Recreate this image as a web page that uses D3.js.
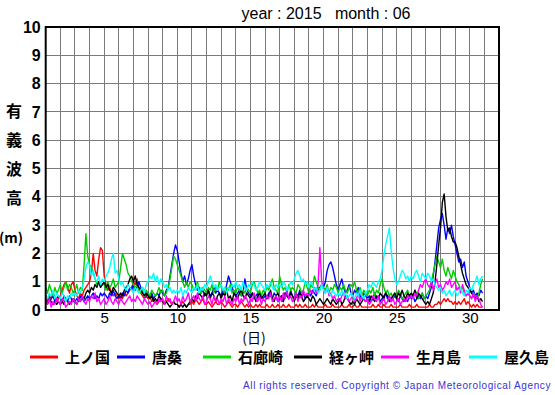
<!DOCTYPE html>
<html><head><meta charset="utf-8">
<script src="https://cdn.jsdelivr.net/npm/d3@7"></script>
<style>
body{margin:0;background:#fff;}
svg{display:block;}
</style></head>
<body>
<svg id="c" width="555" height="395"></svg>
<script>
// ---- data (significant wave height, m; 3-hourly from day 1 00h) ----
const stations = ["上ノ国","唐桑","石廊崎","経ヶ岬","生月島","屋久島"];
const colors = ["#ff0000","#0000ff","#00cc00","#000000","#ff00ff","#00ffff"];
const yTicks = [0,1,2,3,4,5,6,7,8,9,10];
const xTicks = [5,10,15,20,25,30];
const stepsPerDay = 8;

const kaminokuni = [
0.4,0.3,0.5,0.4,0.6,0.5,0.3,0.4, 0.5,0.7,0.9,1.0,0.8,0.6,0.9,1.0, 0.7,0.5,0.4,0.6,0.5,0.7,0.8,0.9,
1.0,1.3,2.0,1.4,1.2,1.8,2.2,2.1, 1.2,0.9,0.7,0.8,0.6,0.5,0.6,0.5, 0.4,0.5,0.4,0.6,0.5,0.6,0.7,0.8,
1.0,0.9,1.1,0.7,0.6,0.5,0.4,0.5, 0.4,0.5,0.3,0.4,0.3,0.2,0.3,0.4, 0.3,0.2,0.3,0.4,0.3,0.2,0.3,0.2,
0.2,0.1,0.2,0.3,0.2,0.1,0.2,0.2, 0.3,0.2,0.4,0.3,0.2,0.3,0.4,0.2, 0.2,0.3,0.2,0.1,0.2,0.3,0.2,0.2,
0.3,0.2,0.1,0.2,0.3,0.2,0.1,0.2, 0.2,0.1,0.2,0.3,0.2,0.1,0.2,0.1, 0.2,0.1,0.1,0.2,0.1,0.2,0.1,0.1,
0.1,0.2,0.1,0.1,0.2,0.1,0.1,0.2, 0.1,0.1,0.2,0.1,0.1,0.2,0.1,0.1, 0.1,0.2,0.1,0.2,0.1,0.1,0.2,0.1,
0.1,0.1,0.2,0.1,0.2,0.1,0.1,0.1, 0.1,0.2,0.1,0.1,0.1,0.2,0.1,0.1, 0.1,0.1,0.2,0.1,0.1,0.1,0.2,0.1,
0.1,0.2,0.1,0.1,0.2,0.1,0.1,0.1, 0.1,0.1,0.1,0.2,0.1,0.1,0.2,0.1, 0.1,0.2,0.1,0.1,0.1,0.2,0.1,0.1,
0.1,0.1,0.2,0.1,0.1,0.1,0.1,0.2, 0.1,0.1,0.1,0.2,0.1,0.1,0.1,0.1, 0.1,0.1,0.2,0.1,0.1,0.2,0.2,0.3,
0.2,0.3,0.4,0.3,0.4,0.3,0.3,0.2, 0.3,0.2,0.3,0.2,0.3,0.4,0.2,0.3, 0.2,0.1,0.2,0.1,0.2,0.1,0.1,0.1];

const karakuwa = [
0.5,0.4,0.3,0.4,0.5,0.3,0.4,0.5, 0.4,0.3,0.5,0.4,0.3,0.5,0.4,0.3, 0.3,0.4,0.3,0.5,0.4,0.3,0.4,0.5,
0.4,0.5,0.6,0.4,0.5,0.4,0.6,0.5, 0.6,0.5,0.4,0.6,0.5,0.7,0.5,0.4, 0.5,0.4,0.6,0.5,0.7,0.6,0.8,0.7,
0.9,0.7,0.8,1.0,0.8,0.6,0.7,0.5, 0.6,0.5,0.6,0.4,0.5,0.6,0.5,0.7, 0.6,0.5,0.7,0.8,1.2,1.6,2.0,2.3,
2.1,1.7,1.3,1.0,1.2,0.9,1.1,1.4, 1.6,1.2,0.9,0.7,0.8,0.6,0.7,0.5, 0.6,0.7,0.5,0.6,0.8,0.6,0.7,0.6,
0.5,0.7,0.6,0.9,1.2,1.0,0.8,0.6, 0.5,0.6,0.7,0.5,0.6,1.1,0.7,0.6, 0.5,0.6,0.4,0.5,0.6,0.4,0.5,0.4,
0.5,0.4,0.6,0.5,0.4,0.6,0.5,0.3, 0.4,0.5,0.3,0.6,0.5,0.4,0.7,0.5, 0.4,0.6,0.5,0.7,0.5,0.6,0.4,0.5,
0.6,0.5,0.7,0.6,0.5,0.7,0.8,0.9, 0.8,1.0,1.4,1.6,1.7,1.5,1.2,0.9, 0.7,0.9,1.1,0.8,0.6,0.7,0.9,0.6,
0.5,0.7,0.6,0.8,0.5,0.4,0.6,0.5, 0.4,0.5,0.3,0.4,0.6,0.4,0.5,0.3, 0.4,0.5,0.6,0.4,0.5,0.3,0.4,0.5,
0.4,0.3,0.5,0.4,0.3,0.4,0.3,0.5, 0.4,0.5,0.3,0.4,0.5,0.4,0.6,0.4, 0.5,0.4,0.6,0.8,1.2,1.7,2.3,2.9,
3.2,3.4,3.0,2.5,2.9,2.7,3.0,2.6, 2.3,2.0,1.7,1.8,1.5,1.7,1.2,1.0, 0.8,0.6,0.7,0.5,0.6,0.5,0.7,0.6];

const irozaki = [
0.8,0.6,0.9,0.7,0.5,0.8,0.6,0.7, 0.9,0.6,0.8,1.0,0.7,0.9,0.8,0.6, 0.7,0.9,0.6,0.8,0.7,1.6,2.7,1.9,
1.6,1.5,1.3,1.1,0.9,1.0,0.8,0.9, 0.9,0.7,1.0,0.8,0.9,1.1,0.8,0.9, 1.0,1.5,2.0,1.8,1.6,1.3,1.2,1.0,
0.9,0.8,0.9,0.7,0.6,0.8,0.5,0.7, 0.6,0.5,0.7,0.6,0.5,0.6,0.8,0.6, 0.7,0.5,0.6,0.8,1.1,1.5,1.9,1.8,
1.6,1.4,1.2,1.0,0.8,1.0,0.8,1.0, 0.9,0.7,0.8,1.0,0.7,0.6,0.8,0.7, 0.6,0.8,0.7,0.9,0.6,0.8,0.7,1.0,
0.8,0.7,0.6,0.8,0.7,0.9,0.6,0.7, 0.6,0.8,0.7,0.5,0.7,0.6,0.8,0.7, 0.6,0.9,1.0,0.8,0.6,0.7,0.5,0.7,
0.6,0.8,0.7,0.9,1.1,0.8,0.7,0.6, 1.2,0.9,0.7,0.8,0.6,0.9,0.7,0.8, 0.7,0.6,0.9,0.8,0.6,0.7,1.0,0.8,
0.6,0.9,0.8,1.2,1.0,0.8,0.7,0.9, 0.8,0.7,0.9,0.6,0.8,0.7,0.9,0.8, 0.6,0.8,0.7,0.9,0.7,0.6,0.8,0.9,
0.8,1.0,0.7,0.6,0.8,0.5,0.7,0.6, 0.5,0.7,0.6,0.8,0.5,0.7,0.6,0.9, 1.1,0.8,0.6,0.7,0.5,0.6,0.4,0.6,
0.5,0.7,0.6,0.4,0.5,0.6,0.7,0.5, 0.6,0.5,0.7,0.6,0.4,0.5,0.6,0.4, 0.5,0.6,0.7,1.0,1.3,1.6,1.9,1.7,
1.5,1.8,1.4,1.2,1.5,1.3,1.1,1.4, 1.2,1.0,0.9,0.7,0.8,0.6,0.5,0.6, 0.5,0.4,0.6,0.5,0.4,0.6,0.9,1.1];

const kyogamisaki = [
0.3,0.2,0.4,0.3,0.2,0.3,0.2,0.3, 0.2,0.3,0.2,0.4,0.3,0.2,0.3,0.4, 0.3,0.2,0.4,0.3,0.5,0.4,0.6,0.7,
0.6,0.8,0.7,0.9,0.8,1.0,0.8,0.9, 1.0,0.8,0.9,0.7,0.6,0.8,0.7,0.6, 0.5,0.6,0.5,0.7,0.8,0.9,1.1,1.2,
1.0,1.2,0.9,0.8,0.7,0.6,0.5,0.6, 0.5,0.4,0.5,0.3,0.4,0.3,0.5,0.4, 0.3,0.2,0.3,0.2,0.1,0.2,0.3,0.2,
0.2,0.1,0.2,0.1,0.2,0.1,0.2,0.3, 0.4,0.3,0.5,0.4,0.6,0.5,0.4,0.6, 0.5,0.7,0.4,0.6,0.5,0.3,0.5,0.6,
0.4,0.6,0.5,0.7,0.4,0.5,0.3,0.6, 0.5,0.4,0.6,0.7,0.5,0.4,0.6,0.5, 0.4,0.6,0.5,0.3,0.5,0.6,0.4,0.5,
0.6,0.4,0.5,0.7,0.4,0.3,0.5,0.6, 0.4,0.5,0.3,0.6,0.5,0.4,0.6,0.5, 0.3,0.5,0.4,0.6,0.5,0.3,0.4,0.5,
0.4,0.3,0.5,0.4,0.2,0.3,0.4,0.3, 0.2,0.3,0.4,0.3,0.2,0.4,0.3,0.2, 0.3,0.4,0.2,0.3,0.5,0.4,0.3,0.2,
0.3,0.2,0.4,0.3,0.2,0.3,0.4,0.3, 0.4,0.3,0.5,0.4,0.3,0.5,0.4,0.6, 0.5,0.4,0.6,0.5,0.3,0.4,0.5,0.6,
0.4,0.6,0.5,0.7,0.5,0.4,0.6,0.5, 0.6,0.5,0.7,0.4,0.6,0.5,0.4,0.3, 0.2,0.3,0.2,0.4,0.6,1.0,1.6,2.3,
2.9,3.8,4.1,3.3,2.8,2.9,2.6,2.4, 2.4,2.2,1.9,1.6,1.3,1.1,0.9,0.8, 0.7,0.6,0.5,0.4,0.5,0.3,0.4,0.3];

const ikitsukishima = [
0.3,0.2,0.4,0.1,0.3,0.2,0.4,0.3, 0.2,0.4,0.3,0.1,0.2,0.3,0.2,0.4, 0.3,0.2,0.4,0.3,0.5,0.3,0.2,0.4,
0.3,0.5,0.4,0.6,0.3,0.4,0.2,0.3, 0.4,0.2,0.3,0.5,0.3,0.2,0.4,0.3, 0.2,0.4,0.3,0.2,0.3,0.4,0.5,0.3,
0.4,0.3,0.5,0.4,0.3,0.2,0.4,0.3, 0.2,0.3,0.1,0.2,0.3,0.2,0.4,0.3, 0.4,0.2,0.5,0.3,0.4,0.2,0.3,0.5,
0.3,0.4,0.2,0.5,0.3,0.4,0.6,0.3, 0.4,0.5,0.3,0.6,0.4,0.3,0.5,0.2, 0.3,0.5,0.4,0.2,0.5,0.3,0.4,0.2,
0.4,0.3,0.5,0.2,0.4,0.3,0.2,0.4, 0.3,0.5,0.2,0.4,0.3,0.5,0.4,0.2, 0.4,0.3,0.6,0.4,0.3,0.5,0.2,0.4,
0.3,0.5,0.4,0.6,0.3,0.4,0.5,0.3, 0.5,0.3,0.6,0.4,0.7,0.4,0.5,0.3, 0.4,0.6,0.3,0.5,0.4,0.7,0.5,0.6,
0.5,0.7,0.6,0.8,0.6,0.9,2.2,1.0, 0.7,0.6,0.8,0.5,0.6,0.4,0.5,0.3, 0.4,0.3,0.5,0.6,0.4,0.5,0.3,0.4,
0.5,0.3,0.4,0.6,0.3,0.5,0.4,0.3, 0.4,0.2,0.3,0.5,0.4,0.3,0.5,0.2, 0.3,0.4,0.2,0.3,0.5,0.3,0.4,0.2,
0.3,0.4,0.2,0.3,0.4,0.3,0.5,0.4, 0.5,0.4,0.6,0.5,0.7,0.9,0.8,1.0, 1.1,0.9,0.8,1.0,0.7,0.9,1.1,0.8,
0.9,0.7,0.8,1.0,0.9,1.1,0.8,0.9, 1.0,0.7,0.8,0.6,0.9,0.7,0.5,0.6, 0.5,0.4,0.6,0.3,0.5,0.4,0.2,0.1];

const yakushima = [
0.5,0.4,0.6,0.5,0.7,0.4,0.6,0.5, 0.4,0.6,0.5,0.3,0.5,0.4,0.6,0.5, 0.6,0.5,0.7,0.6,0.8,1.1,1.5,1.7,
1.6,1.2,1.4,1.1,1.0,1.2,0.9,1.1, 1.0,1.2,1.3,1.5,1.8,2.0,1.3,1.4, 1.1,0.9,1.0,0.8,0.7,0.9,0.8,0.7,
0.6,0.8,0.7,0.6,0.7,0.8,0.6,0.9, 1.0,1.2,1.1,1.3,1.0,1.2,0.9,1.1, 1.0,0.8,0.9,0.7,0.8,0.6,0.7,0.6,
0.7,0.6,0.8,0.5,0.7,0.6,0.8,0.7, 0.6,0.8,0.7,0.9,0.6,0.8,0.7,0.9, 0.8,1.0,1.2,1.0,0.8,0.9,0.7,0.8,
0.9,0.7,0.8,0.6,0.8,0.7,0.9,0.8, 1.0,0.8,0.9,0.7,1.0,0.8,0.7,0.9, 0.8,1.0,0.9,0.7,0.8,1.0,0.9,0.8,
0.7,0.9,0.8,1.0,0.8,0.7,0.9,0.8, 0.9,0.8,1.0,0.9,0.7,0.8,1.0,0.9, 1.1,1.3,1.4,1.2,1.0,1.1,0.9,1.0,
0.8,1.0,0.9,0.7,0.8,0.6,0.7,0.9, 0.7,0.6,0.8,0.6,0.5,0.7,0.6,0.5, 0.6,0.5,0.7,0.5,0.6,0.4,0.5,0.6,
0.5,0.4,0.6,0.5,0.7,0.5,0.4,0.6, 0.7,0.9,0.8,1.0,0.9,0.8,1.0,1.1, 1.4,1.9,2.3,2.6,2.9,2.1,1.5,1.1,
0.9,1.0,1.2,1.4,1.3,1.1,1.2,1.0, 1.2,1.1,1.3,1.4,1.2,1.0,1.3,1.2, 1.1,1.3,1.2,1.0,1.1,0.9,0.8,0.7,
0.8,0.6,0.7,0.5,0.6,0.7,0.5,0.6, 0.7,0.5,0.6,0.8,0.6,0.5,0.7,0.6, 0.8,0.7,0.9,1.0,1.2,0.9,1.1,1.2];

const seriesValues = [kaminokuni, karakuwa, irozaki, kyogamisaki, ikitsukishima, yakushima];

// ---- chart ----
const svg = d3.select("#c");
const L = 45.7, R = 499, T = 27, B = 310;
const x = d3.scaleLinear().domain([1, 32]).range([L, R]);
const y = d3.scaleLinear().domain([0, 10]).range([B, T]);

// grid
const grid = svg.append("g").attr("stroke", "#7a7a7a").attr("stroke-width", 1).attr("shape-rendering","crispEdges");
grid.selectAll("line.h").data(d3.range(1, 10)).join("line")
  .attr("x1", L).attr("x2", R).attr("y1", d => y(d)).attr("y2", d => y(d));
grid.selectAll("line.v").data(d3.range(2, 32)).join("line")
  .attr("y1", T).attr("y2", B).attr("x1", d => x(d)).attr("x2", d => x(d));

// series
const line = d3.line().x((d, i) => x(1 + i / stepsPerDay)).y(d => y(d));
const plot = svg.append("g");
seriesValues.forEach((vals, k) => {
  plot.append("path").attr("d", line(vals)).attr("fill", "none")
    .attr("stroke", colors[k]).attr("stroke-width", 1.4).attr("stroke-linejoin","round");
});

// frame
svg.append("rect").attr("x", L).attr("y", T).attr("width", R - L).attr("height", B - T)
  .attr("fill", "none").attr("stroke", "#000").attr("stroke-width", 2);

// axes
const ya = svg.append("g").attr("transform", `translate(${L},0)`)
  .call(d3.axisLeft(y).tickValues(yTicks).tickSize(0).tickPadding(5).tickFormat(d3.format("d")));
ya.select(".domain").remove();
ya.selectAll("text").attr("font-family", "Liberation Sans, Arial, sans-serif")
  .attr("font-size", 16).attr("font-weight", "bold").attr("fill", "#000");

const xa = svg.append("g").attr("transform", `translate(0,${B})`)
  .call(d3.axisBottom(x).tickValues(xTicks).tickSize(0).tickPadding(2).tickFormat(d3.format("d")));
xa.select(".domain").remove();
xa.selectAll("text").attr("font-family", "Liberation Sans, Arial, sans-serif")
  .attr("font-size", 15).attr("fill", "#000");

// title
svg.append("text").attr("x", 326).attr("y", 19).attr("text-anchor", "middle")
  .attr("font-family", "Liberation Sans, Arial, sans-serif").attr("font-size", 16)
  .attr("xml:space","preserve").style("white-space","pre")
  .text("year : 2015   month : 06");

// y label
const ylab = ["有","義","波","高"];
ylab.forEach((c, i) => {
  svg.append("text").attr("x", 14).attr("y", 117 + i * 29).attr("text-anchor", "middle")
    .attr("font-family", "Noto Sans CJK JP, sans-serif").attr("font-size", 16).attr("font-weight", "bold")
    .text(c);
});
svg.append("text").attr("x", 11).attr("y", 243).attr("text-anchor", "middle")
  .attr("font-family", "Noto Sans CJK JP, sans-serif").attr("font-size", 14).attr("font-weight", "bold")
  .text("(m)");

// x label
svg.append("text").attr("x", 254).attr("y", 343).attr("text-anchor", "middle")
  .attr("font-family", "Noto Sans CJK JP, sans-serif").attr("font-size", 14)
  .text("(日)");

// legend
const legX = [30, 117, 203, 294, 381, 469];
const leg = svg.append("g");
stations.forEach((s, k) => {
  leg.append("line").attr("x1", legX[k]).attr("x2", legX[k] + 28).attr("y1", 357).attr("y2", 357)
    .attr("stroke", colors[k] === "#00cc00" ? "#00dd00" : colors[k]).attr("stroke-width", 3);
  leg.append("text").attr("x", legX[k] + 35).attr("y", 363)
    .attr("font-family", "Noto Sans CJK JP, sans-serif").attr("font-size", 15).attr("font-weight", "bold")
    .text(s);
});

// footer
svg.append("text").attr("x", 551).attr("y", 389).attr("text-anchor", "end")
  .attr("font-family", "Liberation Sans, Arial, sans-serif").attr("font-size", 10)
  .attr("letter-spacing", 0.6).attr("fill", "#3535d0")
  .text("All rights reserved. Copyright © Japan Meteorological Agency");
</script>
</body></html>
